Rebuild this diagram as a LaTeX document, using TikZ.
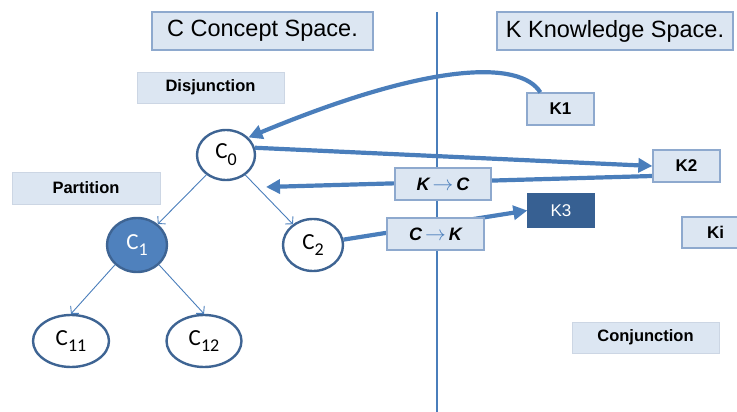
\documentclass[tikz,border=0pt]{standalone}
\usepackage{fontspec}
\setmainfont{Liberation Sans}
\newfontfamily\calfont{Carlito}
\usetikzlibrary{arrows.meta,calc,shapes.geometric}
\definecolor{boxfill}{HTML}{DCE6F2}
\definecolor{boxline}{HTML}{8EA9CE}
\definecolor{lablline}{HTML}{CCD6E4}
\definecolor{arrowc}{HTML}{4A7EBB}
\definecolor{ellline}{HTML}{3E6493}
\definecolor{cfill}{HTML}{4F81BD}
\definecolor{kdark}{HTML}{376092}
\pgfdeclarelayer{bg}
\pgfsetlayers{bg,main}
\newcommand\sbs[1]{\raisebox{-0.3em}{\fontsize{18}{18}\selectfont #1}}
\begin{document}
\begin{tikzpicture}[x=1pt,y=-1pt,
  titlebox/.style={draw=boxline,line width=1.3pt,fill=boxfill,inner sep=0pt,font=\fontsize{23.5}{25}\selectfont},
  lablbox/.style={draw=lablline,line width=0.8pt,fill=boxfill,inner sep=0pt,minimum width=147pt,minimum height=31pt,font=\fontsize{16.5}{18}\selectfont\bfseries},
  kbox/.style={draw=boxline,line width=1.3pt,fill=boxfill,inner sep=0pt,minimum width=67pt,minimum height=32pt,font=\fontsize{17}{18}\selectfont\bfseries},
  opbox/.style={draw=boxline,line width=1.3pt,fill=boxfill,inner sep=0pt,minimum width=97pt,minimum height=32pt,font=\fontsize{18}{18}\selectfont\bfseries\itshape},
  cell/.style={ellipse,draw=ellline,line width=2.4pt,fill=white,inner sep=0pt,font=\calfont\fontsize{23}{24}\selectfont},
  thick arrow/.style={draw=arrowc,line width=4.2pt,-{Triangle[length=14pt,width=14pt]}},
  tree arrow/.style={draw=arrowc,line width=0.9pt,-{Straight Barb[length=5pt,width=11pt]}}]
\useasboundingbox (0,0) rectangle (737,412);
\newcommand\ar{{\color{arrowc}\normalfont\fontsize{20}{18}\selectfont$\rightarrow$}}

% divider
\draw[arrowc,line width=2.4pt] (437,12) -- (437,412);

% titles
\node[titlebox,minimum width=221pt,minimum height=38pt] (cs) at (262.5,31) {C Concept Space.};
\node[titlebox,minimum width=236pt,minimum height=38pt] (ks) at (615,31) {K Knowledge Space.};

% labels
\node[lablbox] (disj) at (210.5,87.5) {Disjunction};
\node[lablbox,minimum width=148pt,minimum height=32pt] (part) at (86,188) {Partition};
\node[lablbox] (conj) at (645.5,337.5) {Conjunction};

% K boxes
\node[kbox] (K1) at (560.5,109) {K1};
\node[kbox] (K2) at (686.5,166) {K2};
\node[kbox,fill=kdark,draw=kdark,minimum width=66pt,minimum height=33pt,font=\fontsize{17}{18}\selectfont,text=white] (K3) at (561,210.5) {K3};
\node[kbox,minimum height=31pt] (Ki) at (715.5,232.5) {Ki};

% operator boxes
\node[opbox,minimum width=96pt] (kc) at (443,184) {K\,\ar\,C};
\node[opbox] (ck) at (435.5,234) {C\,\ar\,K};

% concept cells
\node[cell,minimum width=58pt,minimum height=50pt] (C0) at (226,155) {C\sbs{0}};
\node[cell,minimum width=60pt,minimum height=54pt,fill=cfill,text=white] (C1) at (137,245) {C\sbs{1}};
\node[cell,minimum width=60pt,minimum height=52pt] (C2) at (313,245) {C\sbs{2}};
\node[cell,minimum width=76pt,minimum height=52pt] (C11) at (71,341) {C\sbs{11}};
\node[cell,minimum width=75pt,minimum height=52pt] (C12) at (204,341) {C\sbs{12}};

\coordinate (kcend) at (266,187);

% tree
\draw[tree arrow] (C0) -- (C1);
\draw[tree arrow] (C0) -- (C2);
\draw[tree arrow] (C1.222) -- (C11.north);
\draw[tree arrow] (C1.318) -- (C12.north);

% thick arrows
\draw[thick arrow] ([xshift=14pt]K1.north west) .. controls (520,60) and (430,62) .. (C0.38);
\draw[thick arrow] (C0.14) -- (K2.west);
\begin{pgfonlayer}{bg}
\draw[thick arrow] ($(K2.west)+(0,10)$) -- (kcend);
\draw[thick arrow] (C2.10) -- (K3.west);
\end{pgfonlayer}
\end{tikzpicture}
\end{document}
